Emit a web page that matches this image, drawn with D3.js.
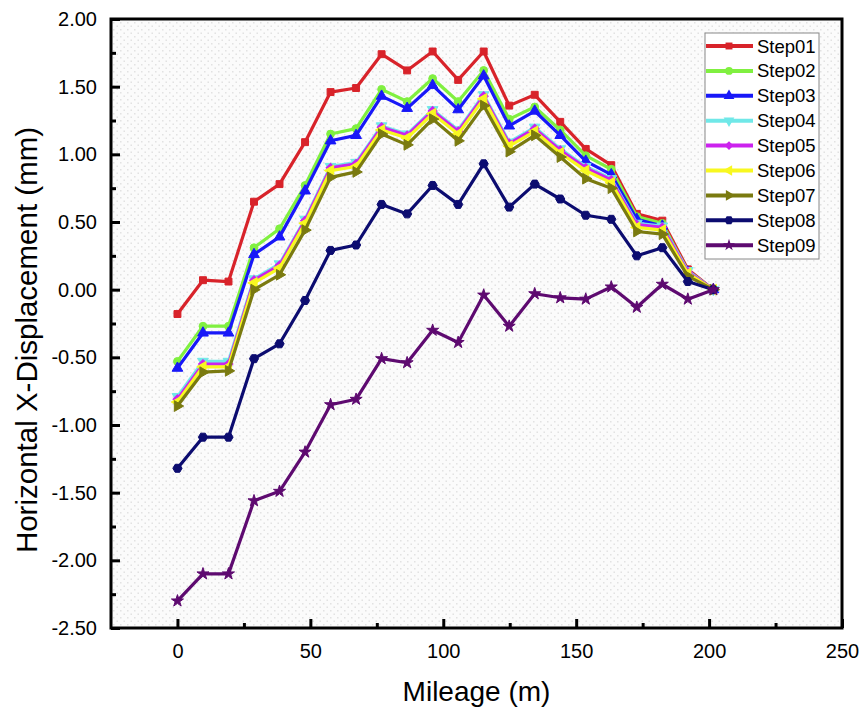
<!DOCTYPE html>
<html>
<head>
<meta charset="utf-8">
<script src="https://cdn.jsdelivr.net/npm/d3@7"></script>
<style>
  body { margin: 0; background: #fff; }
  text { font-family: "Liberation Sans", Arial, sans-serif; fill: #000; }
</style>
</head>
<body>
<div id="chart"></div>
<script>
// Mileage along the section (m)
const mileage = [0, 9.6, 19.2, 28.8, 38.4, 48, 57.6, 67.2, 76.8, 86.4, 96, 105.6,
  115.2, 124.8, 134.4, 144, 153.6, 163.2, 172.8, 182.4, 192, 201.6];

// Horizontal X-displacement (mm) for every excavation step
const step01 = [-0.18, 0.07, 0.06, 0.65, 0.78, 1.09, 1.46, 1.49, 1.74, 1.62, 1.76, 1.55, 1.76, 1.36, 1.44, 1.24, 1.04, 0.92, 0.56, 0.51, 0.15, 0.00];
const step02 = [-0.53, -0.27, -0.27, 0.31, 0.45, 0.77, 1.15, 1.19, 1.48, 1.39, 1.56, 1.39, 1.62, 1.26, 1.35, 1.18, 0.99, 0.89, 0.54, 0.49, 0.13, 0.00];
const step03 = [-0.58, -0.32, -0.32, 0.26, 0.39, 0.73, 1.10, 1.14, 1.43, 1.34, 1.51, 1.33, 1.58, 1.21, 1.32, 1.14, 0.95, 0.85, 0.52, 0.47, 0.13, 0.00];
const step04 = [-0.79, -0.53, -0.53, 0.08, 0.19, 0.52, 0.91, 0.94, 1.21, 1.15, 1.33, 1.18, 1.44, 1.09, 1.20, 1.04, 0.91, 0.82, 0.49, 0.47, 0.14, 0.00];
const step05 = [-0.81, -0.55, -0.55, 0.07, 0.18, 0.51, 0.90, 0.93, 1.20, 1.14, 1.32, 1.17, 1.43, 1.08, 1.19, 1.03, 0.90, 0.81, 0.48, 0.46, 0.13, 0.00];
const step06 = [-0.83, -0.57, -0.57, 0.05, 0.16, 0.49, 0.88, 0.91, 1.18, 1.12, 1.30, 1.15, 1.41, 1.06, 1.17, 1.01, 0.88, 0.79, 0.46, 0.44, 0.12, 0.00];
const step07 = [-0.86, -0.61, -0.60, 0.00, 0.11, 0.44, 0.83, 0.87, 1.15, 1.07, 1.26, 1.10, 1.36, 1.02, 1.14, 0.98, 0.82, 0.75, 0.43, 0.41, 0.10, 0.00];
const step08 = [-1.32, -1.09, -1.09, -0.51, -0.40, -0.08, 0.29, 0.33, 0.63, 0.56, 0.77, 0.63, 0.93, 0.61, 0.78, 0.67, 0.55, 0.52, 0.25, 0.31, 0.06, 0.00];
const step09 = [-2.30, -2.10, -2.10, -1.56, -1.49, -1.20, -0.85, -0.81, -0.51, -0.54, -0.30, -0.39, -0.04, -0.27, -0.03, -0.06, -0.07, 0.02, -0.13, 0.04, -0.07, 0.00];

const seriesNames = ["Step01", "Step02", "Step03", "Step04", "Step05", "Step06", "Step07", "Step08", "Step09"];
const seriesValues = [step01, step02, step03, step04, step05, step06, step07, step08, step09];

// Tick values for both axes
const xTicks = [0, 50, 100, 150, 200, 250];
const yTicks = [-2.5, -2, -1.5, -1, -0.5, 0, 0.5, 1, 1.5, 2];

// Origin-like colours and marker shapes for each step
const colors = ["#d8232a", "#80f040", "#1818f8", "#70e8e8", "#cc22ee", "#f8f820", "#7a7a10", "#0c0c70", "#5e0a70"];
const hexagon = {
  draw(ctx, size) {
    const r = Math.sqrt(size / 2.6);
    for (let i = 0; i < 6; i++) {
      const a = Math.PI / 3 * i;
      if (i === 0) ctx.moveTo(r * Math.cos(a), r * Math.sin(a));
      else ctx.lineTo(r * Math.cos(a), r * Math.sin(a));
    }
    ctx.closePath();
  }
};
const markers = [
  { type: d3.symbolSquare, rot: 0, size: 48 },
  { type: d3.symbolCircle, rot: 0, size: 48 },
  { type: d3.symbolTriangle, rot: 0, size: 50 },
  { type: d3.symbolTriangle, rot: 180, size: 50 },
  { type: d3.symbolSquare, rot: 45, size: 40 },
  { type: d3.symbolTriangle, rot: -90, size: 50 },
  { type: d3.symbolTriangle, rot: 90, size: 50 },
  { type: hexagon, rot: 0, size: 55 },
  { type: d3.symbolStar, rot: 0, size: 45 }
];

const width = 861;
const height = 714;
const plot = { left: 111, right: 842, top: 19, bottom: 628 };

const svg = d3.select("#chart")
  .append("svg")
  .attr("width", width)
  .attr("height", height);

// Dotted background texture of the plot area
const defs = svg.append("defs");
const pattern = defs.append("pattern")
  .attr("id", "dots")
  .attr("width", 7)
  .attr("height", 7)
  .attr("patternUnits", "userSpaceOnUse");
pattern.append("rect").attr("width", 7).attr("height", 7).attr("fill", "#fbfbfb");
pattern.append("rect").attr("x", 1).attr("y", 1).attr("width", 1.5).attr("height", 1.5).attr("fill", "#e2e2e2");
pattern.append("rect").attr("x", 4.5).attr("y", 4.5).attr("width", 1.5).attr("height", 1.5).attr("fill", "#e2e2e2");

svg.append("rect")
  .attr("x", plot.left)
  .attr("y", plot.top)
  .attr("width", plot.right - plot.left)
  .attr("height", plot.bottom - plot.top)
  .attr("fill", "url(#dots)");

const x = d3.scaleLinear().domain([-25, 250]).range([plot.left, plot.right]);
const y = d3.scaleLinear().domain([-2.5, 2]).range([plot.bottom, plot.top]);

// Axes: major ticks point inward, minor ticks halfway between
const xAxis = svg.append("g")
  .attr("transform", `translate(0,${plot.bottom})`)
  .call(d3.axisBottom(x).tickValues(xTicks).tickSize(-9).tickPadding(16).tickFormat(d => d));
xAxis.append("g")
  .call(d3.axisBottom(x).tickValues([25, 75, 125, 175, 225]).tickSize(-5).tickFormat(""));

const yAxis = svg.append("g")
  .attr("transform", `translate(${plot.left},0)`)
  .call(d3.axisLeft(y).tickValues(yTicks).tickSize(-9).tickPadding(14).tickFormat(d => d.toFixed(2)));
yAxis.append("g")
  .call(d3.axisLeft(y).tickValues(d3.range(-2.25, 2, 0.5)).tickSize(-5).tickFormat(""));

svg.selectAll(".domain").remove();
svg.selectAll(".tick line").attr("stroke", "#000").attr("stroke-width", 3);
svg.selectAll(".tick text").style("font-size", "20px").attr("fill", "#000");

// Plot frame
svg.append("rect")
  .attr("x", plot.left)
  .attr("y", plot.top)
  .attr("width", plot.right - plot.left)
  .attr("height", plot.bottom - plot.top)
  .attr("fill", "none")
  .attr("stroke", "#000")
  .attr("stroke-width", 3);

// Axis titles
svg.append("text")
  .attr("x", (plot.left + plot.right) / 2)
  .attr("y", 701)
  .attr("text-anchor", "middle")
  .style("font-size", "28px")
  .text("Mileage (m)");

svg.append("text")
  .attr("transform", "translate(37,340) rotate(-90)")
  .attr("text-anchor", "middle")
  .style("font-size", "29.5px")
  .text("Horizontal X-Displacement (mm)");

// Lines and markers
const line = d3.line()
  .x((d, i) => x(mileage[i]))
  .y(d => y(d));

const symbolPath = m => d3.symbol().type(m.type).size(m.size)();

seriesValues.forEach((vals, s) => {
  const g = svg.append("g");
  g.append("path")
    .datum(vals)
    .attr("d", line)
    .attr("fill", "none")
    .attr("stroke", colors[s])
    .attr("stroke-width", 3.2)
    .attr("stroke-linejoin", "round");
  g.selectAll("path.mk")
    .data(vals)
    .join("path")
    .attr("class", "mk")
    .attr("d", symbolPath(markers[s]))
    .attr("transform", (d, i) => `translate(${x(mileage[i])},${y(d)}) rotate(${markers[s].rot})`)
    .attr("fill", colors[s])
    .attr("stroke", colors[s])
    .attr("stroke-width", 1);
});

// Legend
const legend = svg.append("g").attr("transform", "translate(705,33)");
legend.append("rect")
  .attr("width", 114)
  .attr("height", 226)
  .attr("fill", "#fff")
  .attr("stroke", "#888")
  .attr("stroke-width", 1);

const items = legend.selectAll(".legend-item")
  .data(seriesNames)
  .join("g")
  .attr("class", "legend-item")
  .attr("transform", (d, i) => `translate(0,${13 + i * 24.9})`);

items.append("line")
  .attr("x1", 1)
  .attr("x2", 48)
  .attr("stroke", (d, i) => colors[i])
  .attr("stroke-width", 4);

items.append("path")
  .attr("d", (d, i) => symbolPath(markers[i]))
  .attr("transform", (d, i) => `translate(24,0) rotate(${markers[i].rot})`)
  .attr("fill", (d, i) => colors[i]);

items.append("text")
  .attr("x", 52)
  .attr("y", 6.5)
  .style("font-size", "18.5px")
  .text(d => d);
</script>
</body>
</html>
